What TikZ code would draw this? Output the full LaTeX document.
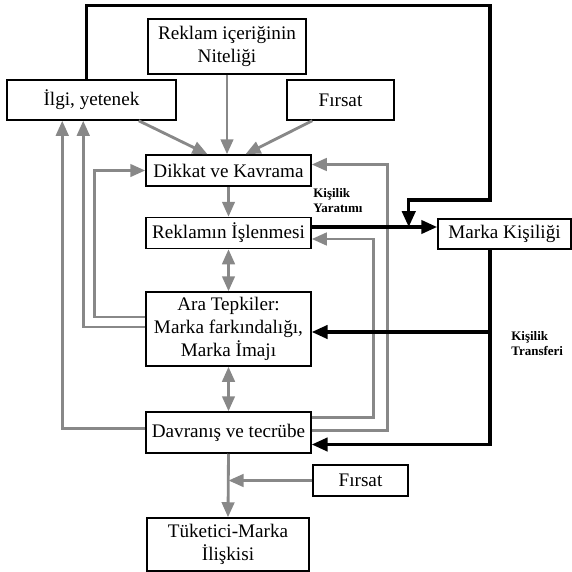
\documentclass[tikz,border=0pt]{standalone}
\usepackage{fontspec}
\setmainfont{Liberation Serif}
\usepackage{tikz}
\usetikzlibrary{positioning}
\usetikzlibrary{calc}
\usetikzlibrary{arrows.meta}
\definecolor{okgri}{HTML}{888888}

\begin{document}
\begin{tikzpicture}[x=0.6pt,y=-0.6pt,
		kutu/.style={draw,line width=0.9pt,fill=white,align=center,inner sep=1pt,font=\fontsize{11.5}{13.8}\selectfont},
		gri/.style={draw=okgri,line width=1.7pt},
		siyah/.style={draw=black,line width=1.9pt},
		griok/.style={gri,-{Triangle[length=9pt,width=7.5pt]}},
		iciftok/.style={gri,{Triangle[length=9pt,width=7.5pt]}-{Triangle[length=9pt,width=7.5pt]}},
		siyahok/.style={siyah,-{Triangle[length=9.5pt,width=8pt]}},
		etiket/.style={font=\bfseries\fontsize{7.8}{9}\selectfont,align=left,inner sep=0pt}]
		\useasboundingbox (0,0) rectangle (572,572);
		% kutular
		\node[kutu,minimum width=94.8pt,minimum height=33pt] (icerik) at (227,46.5) {Reklam içeriğinin\\Niteliği};
		\node[kutu,minimum width=101.4pt,minimum height=24pt] (ilgi) at (91.5,100) {İlgi, yetenek};
		\node[kutu,minimum width=64.2pt,minimum height=24pt] (firsat) at (340.5,100) {Fırsat};
		\node[kutu,minimum width=99pt,minimum height=18.6pt] (dikkat) at (228.5,170.5) {Dikkat ve Kavrama};
		\node[kutu,minimum width=99pt,minimum height=18.6pt] (islenme) at (228.5,233) {Reklamın İşlenmesi};
		\node[kutu,minimum width=99pt,minimum height=44.4pt] (ara) at (228.5,329) {Ara Tepkiler:\\Marka farkındalığı,\\Marka İmajı};
		\node[kutu,minimum width=99pt,minimum height=24.6pt] (davranis) at (228.5,432.5) {Davranış ve tecrübe};
		\node[kutu,minimum width=97.2pt,minimum height=31.8pt] (tuketici) at (228,544.5) {Tüketici-Marka\\İlişkisi};
		\node[kutu,minimum width=57pt,minimum height=18.6pt] (firsatalt) at (360.5,480.5) {Fırsat};
		\node[kutu,minimum width=80pt,minimum height=18pt] (marka) at (504.5,234) {Marka Kişiliği};
		% etiketler
		\node[etiket,anchor=north west] (yaratim) at (313,188) {Kişilik\\Yaratımı};
		\node[etiket,anchor=north west] (transfer) at (511,331) {Kişilik\\Transferi};
		% ana akis
		\draw[griok] (icerik.south) -- (dikkat.north -| icerik.south);
		\draw[griok] ($(ilgi.south east)+(-38,0)$) -- ($(dikkat.north)+(-21,0)$);
		\draw[griok] ($(firsat.south west)+(26,0)$) -- ($(dikkat.north)+(17,0)$);
		\draw[griok] (dikkat.south) -- (islenme.north);
		\draw[iciftok] (islenme.south) -- (ara.north);
		\draw[iciftok] (ara.south) -- (davranis.north);
		\draw[griok] (davranis.south) -- (tuketici.north);
		\draw[griok] (firsatalt.west) -- (davranis.south |- firsatalt.west);
		% geri beslemeler (sol)
		\draw[griok] ($(ara.west)+(0,-12)$) -- ++(-51,0) |- (dikkat.west);
		\draw[griok] ($(ara.west)+(0,-2)$) -| ($(ilgi.south west)+(77,0)$);
		\draw[griok] ($(davranis.west)+(0,-4)$) -| ($(ilgi.south west)+(56,0)$);
		% geri beslemeler (sag)
		\draw[griok] ($(davranis.east)+(0,-15)$) -- ++(62,0) |- ($(islenme.east)+(0,6)$);
		\draw[griok] ($(davranis.east)+(0,-2)$) -- ++(76,0) |- ($(dikkat.east)+(0,-6)$);
		% kisilik yaratimi
		\coordinate (kavsak) at ($(islenme.east)+(97,-6)$);
		\draw[siyahok] ($(islenme.east)+(0,-6)$) -- (marka.west |- kavsak);
		\draw[siyahok] ($(ilgi.north west)+(80,0)$) -- ++(0,-74) -| (490,200) -| (kavsak);
		% kisilik transferi
		\draw[siyahok] ($(marka.south)+(-14.5,0)$) |- ($(davranis.east)+(0,12)$);
		\draw[siyahok] ($(marka.south)+(-14.5,0)$) |- ($(ara.east)+(0,3)$);
	\end{tikzpicture}
\end{document}
